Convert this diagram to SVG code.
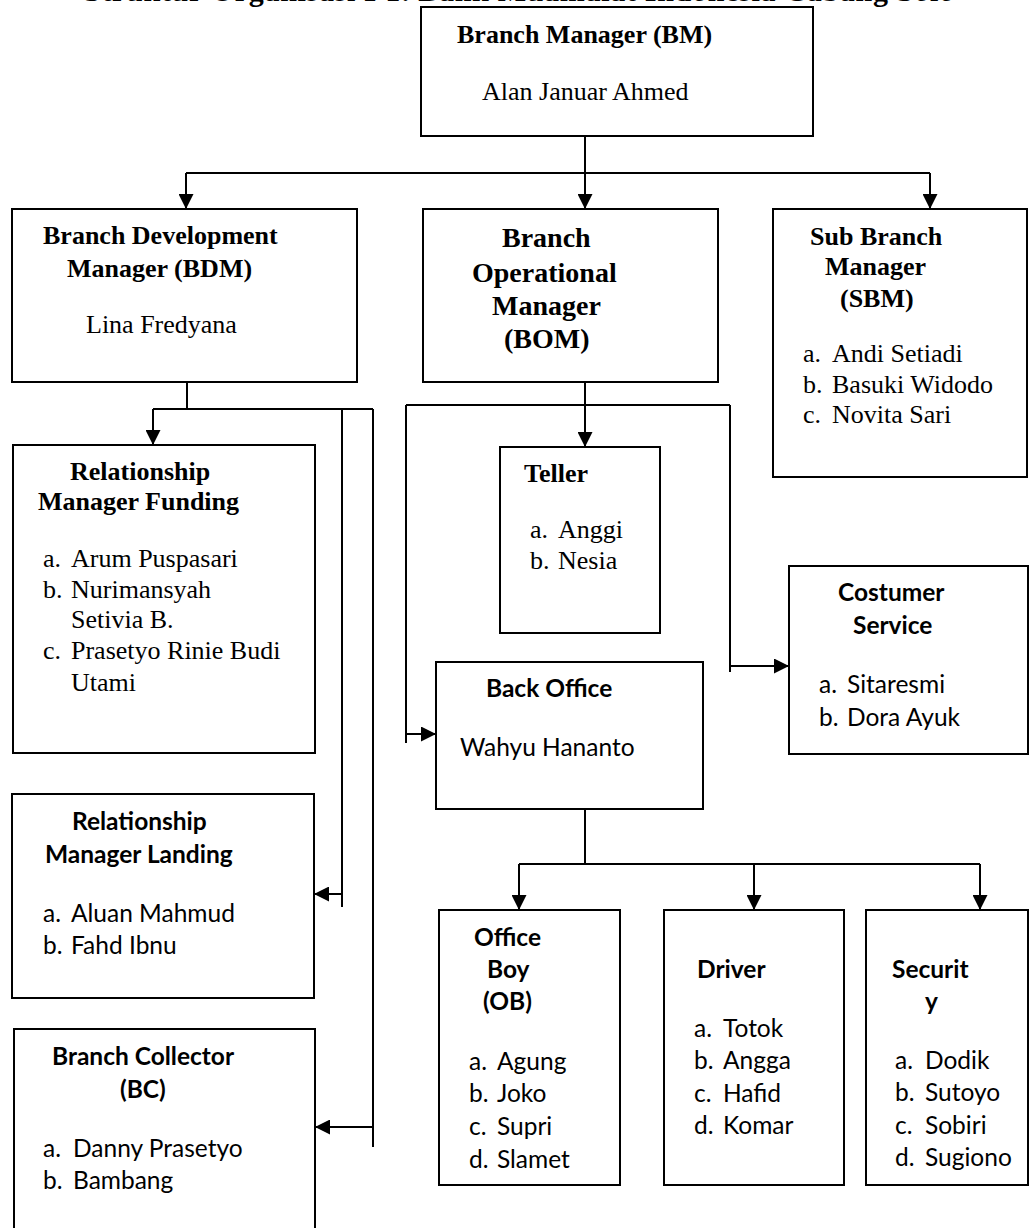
<svg xmlns="http://www.w3.org/2000/svg" width="1030" height="1228" viewBox="0 0 1030 1228">
<style>
.box{fill:#fff;stroke:#000;stroke-width:2}
.ln{fill:none;stroke:#000;stroke-width:2}
.ar{fill:none;stroke:#000;stroke-width:2;marker-end:url(#ah)}
.sb{font-family:"Liberation Serif","Times New Roman",serif;font-weight:bold;font-size:26px;fill:#000}
.sr{font-family:"Liberation Serif","Times New Roman",serif;font-size:26px;fill:#000}
.big{font-size:28px}
.cb{font-family:Lato,"Noto Sans",sans-serif;font-weight:bold;font-size:24.5px;fill:#000}
.cr{font-family:Lato,"Noto Sans",sans-serif;font-size:24.5px;fill:#000}
</style>
<defs>
<marker id="ah" markerUnits="userSpaceOnUse" markerWidth="15" markerHeight="15" refX="15" refY="7.5" orient="auto">
<path d="M0,0 L15,7.5 L0,15 z" fill="#000"/>
</marker>
</defs>
<rect width="1030" height="1228" fill="#fff"/>
<text class="sb" x="84" y="0.5" style="font-size:30px" textLength="870" lengthAdjust="spacing">Struktur Organisasi PT. Bank Muamalat Indonesia Cabang Solo</text>

<g id="connectors">
<path class="ln" d="M585,136 V173 M186,173 H930"/>
<path class="ar" d="M186,173 V209"/>
<path class="ar" d="M585,173 V209"/>
<path class="ar" d="M930,173 V209"/>
<path class="ln" d="M187,382 V409 M153,409 H373 M342,409 V907 M373,409 V1147"/>
<path class="ar" d="M153,409 V445"/>
<path class="ar" d="M342,894 H314"/>
<path class="ar" d="M373,1127 H315"/>
<path class="ar" d="M585,382 V447"/>
<path class="ln" d="M406,405 H730 M406,405 V743 M730,405 V672"/>
<path class="ar" d="M406,734 H436"/>
<path class="ar" d="M730,666 H789"/>
<path class="ln" d="M585,809 V864 M519,864 H980"/>
<path class="ar" d="M519,864 V910"/>
<path class="ar" d="M754,864 V910"/>
<path class="ar" d="M980,864 V910"/>
</g>

<g id="bm">
<rect class="box" x="421" y="7" width="392" height="129"/>
<text class="sb" x="457" y="43">Branch Manager (BM)</text>
<text class="sr" x="482" y="100">Alan Januar Ahmed</text>
</g>

<g id="bdm">
<rect class="box" x="12" y="209" width="345" height="173"/>
<text class="sb" x="43" y="244">Branch Development</text>
<text class="sb" x="67" y="277">Manager (BDM)</text>
<text class="sr" x="86" y="333">Lina Fredyana</text>
</g>

<g id="bom">
<rect class="box" x="423" y="209" width="295" height="173"/>
<text class="sb big" x="502" y="247">Branch</text>
<text class="sb big" x="472" y="282">Operational</text>
<text class="sb big" x="492" y="315">Manager</text>
<text class="sb big" x="504" y="348">(BOM)</text>
</g>

<g id="sbm">
<rect class="box" x="773" y="209" width="254" height="268"/>
<text class="sb" x="810" y="245">Sub Branch</text>
<text class="sb" x="825" y="275">Manager</text>
<text class="sb" x="840" y="307">(SBM)</text>
<text class="sr" y="362"><tspan x="803">a.</tspan><tspan x="832">Andi Setiadi</tspan></text>
<text class="sr" y="393"><tspan x="803">b.</tspan><tspan x="832">Basuki Widodo</tspan></text>
<text class="sr" y="423"><tspan x="803">c.</tspan><tspan x="832">Novita Sari</tspan></text>
</g>

<g id="rmf">
<rect class="box" x="13" y="445" width="302" height="308"/>
<text class="sb" x="70" y="480">Relationship</text>
<text class="sb" x="38" y="510">Manager Funding</text>
<text class="sr" y="567"><tspan x="43">a.</tspan><tspan x="71">Arum Puspasari</tspan></text>
<text class="sr" y="598"><tspan x="43">b.</tspan><tspan x="71">Nurimansyah</tspan></text>
<text class="sr" x="71" y="628">Setivia B.</text>
<text class="sr" y="659"><tspan x="43">c.</tspan><tspan x="71">Prasetyo Rinie Budi</tspan></text>
<text class="sr" x="71" y="691">Utami</text>
</g>

<g id="teller">
<rect class="box" x="500" y="447" width="160" height="186"/>
<text class="sb" x="524" y="482">Teller</text>
<text class="sr" y="538"><tspan x="530">a.</tspan><tspan x="558">Anggi</tspan></text>
<text class="sr" y="569"><tspan x="530">b.</tspan><tspan x="558">Nesia</tspan></text>
</g>

<g id="cs">
<rect class="box" x="789" y="566" width="239" height="188"/>
<text class="cb" x="838" y="601">Costumer</text>
<text class="cb" x="853" y="634">Service</text>
<text class="cr" y="693"><tspan x="819">a.</tspan><tspan x="847">Sitaresmi</tspan></text>
<text class="cr" y="726"><tspan x="819">b.</tspan><tspan x="847">Dora Ayuk</tspan></text>
</g>

<g id="bo">
<rect class="box" x="436" y="662" width="267" height="147"/>
<text class="cb" x="486" y="697">Back Office</text>
<text class="cr" x="460" y="756">Wahyu Hananto</text>
</g>

<g id="rml">
<rect class="box" x="12" y="794" width="302" height="204"/>
<text class="cb" x="72" y="830">Relationship</text>
<text class="cb" x="45" y="863">Manager Landing</text>
<text class="cr" y="922"><tspan x="43">a.</tspan><tspan x="71">Aluan Mahmud</tspan></text>
<text class="cr" y="954"><tspan x="43">b.</tspan><tspan x="71">Fahd Ibnu</tspan></text>
</g>

<g id="bc">
<rect class="box" x="14" y="1029" width="301" height="220"/>
<text class="cb" x="52" y="1065">Branch Collector</text>
<text class="cb" x="120" y="1098">(BC)</text>
<text class="cr" y="1157"><tspan x="43">a.</tspan><tspan x="73">Danny Prasetyo</tspan></text>
<text class="cr" y="1189"><tspan x="43">b.</tspan><tspan x="73">Bambang</tspan></text>
</g>

<g id="ob">
<rect class="box" x="439" y="910" width="181" height="275"/>
<text class="cb" x="474" y="946">Office</text>
<text class="cb" x="487" y="978">Boy</text>
<text class="cb" x="483" y="1010">(OB)</text>
<text class="cr" y="1070"><tspan x="469">a.</tspan><tspan x="497">Agung</tspan></text>
<text class="cr" y="1102"><tspan x="469">b.</tspan><tspan x="497">Joko</tspan></text>
<text class="cr" y="1135"><tspan x="469">c.</tspan><tspan x="497">Supri</tspan></text>
<text class="cr" y="1168"><tspan x="469">d.</tspan><tspan x="497">Slamet</tspan></text>
</g>

<g id="driver">
<rect class="box" x="664" y="910" width="180" height="275"/>
<text class="cb" x="697" y="978">Driver</text>
<text class="cr" y="1037"><tspan x="694">a.</tspan><tspan x="723">Totok</tspan></text>
<text class="cr" y="1069"><tspan x="694">b.</tspan><tspan x="723">Angga</tspan></text>
<text class="cr" y="1102"><tspan x="694">c.</tspan><tspan x="723">Hafid</tspan></text>
<text class="cr" y="1134"><tspan x="694">d.</tspan><tspan x="723">Komar</tspan></text>
</g>

<g id="security">
<rect class="box" x="866" y="910" width="162" height="275"/>
<text class="cb" x="892" y="978">Securit</text>
<text class="cb" x="925" y="1010">y</text>
<text class="cr" y="1069"><tspan x="895">a.</tspan><tspan x="925">Dodik</tspan></text>
<text class="cr" y="1101"><tspan x="895">b.</tspan><tspan x="925">Sutoyo</tspan></text>
<text class="cr" y="1134"><tspan x="895">c.</tspan><tspan x="925">Sobiri</tspan></text>
<text class="cr" y="1166"><tspan x="895">d.</tspan><tspan x="925">Sugiono</tspan></text>
</g>
</svg>
